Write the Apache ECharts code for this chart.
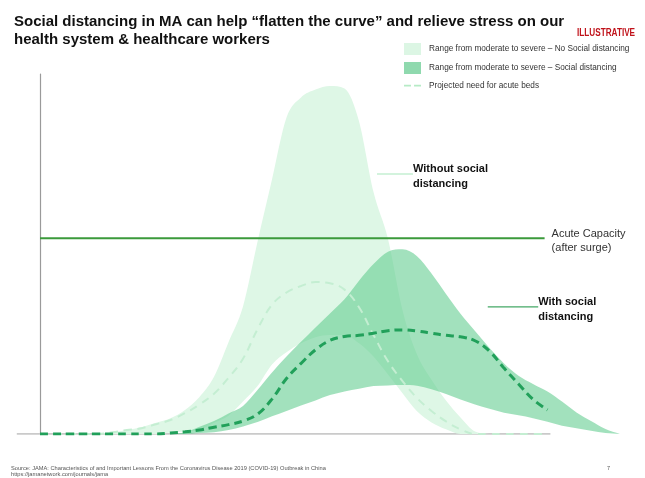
<!DOCTYPE html>
<html>
<head>
<meta charset="utf-8">
<script src="https://cdn.jsdelivr.net/npm/echarts@6/dist/echarts.min.js"></script>
<style>
html,body{margin:0;padding:0;background:#fff;}
#chart{width:645px;height:478px;}
</style>
</head>
<body>
<div id="chart"></div>
<script>
// ---- Data (illustrative units: x = days, y = beds index) ----
const days = [0,2.5,5,7.5,10,12.5,15,17.5,20,22.5,25,27.5,30,32.5,35,37.5,40,42.5,45,47.5,50,52.5,55,57.5,60,62.5,65,67.5,70,72.5,75,77.5,80,82.5,85,87.5,90,92.5,95,97.5,100];

// Range from moderate to severe – No Social distancing (light band)
const noSdHigh = [0,0,0,0,0,0.4,1.1,1.9,3.1,4.4,6.7,10.3,15.9,25.5,35.4,53.4,70.7,87.9,93.5,95.7,96.7,96.0,86.9,67.2,54.2,34.4,22.1,15.1,9.3,4.6,0.7,0,0,0,0,0,0,0,0,0,0];
const noSdLow  = [0,0,0,0,0,0,0,0,0,0.4,0.7,1.1,3.1,5.1,9.0,13.3,19.3,22.7,25.2,26.9,27.5,27.5,25.2,21.5,16.5,11.3,6.3,3.2,1.3,0,0,0,0,0,0,0,0,0,0,0,0];

// Range from moderate to severe – Social distancing (darker band)
const sdHigh = [0,0,0,0,0,0,0,0,0,0,0.5,2.0,3.6,5.7,7.8,12.2,17.1,21.5,25.6,29.6,33.5,37.4,42.6,47.2,50.6,51.3,49.4,44.6,38.9,33.4,28.6,23.9,19.6,16.2,13.9,11.8,9.0,6.0,3.6,1.4,0];
const sdLow  = [0,0,0,0,0,0,0,0,0,0,0,0.3,0.5,1.1,2.1,3.3,4.9,6.4,7.9,9.3,10.8,11.8,12.6,13.3,13.5,13.6,13.4,12.4,11.1,9.6,8.2,7.0,5.9,5.2,4.4,3.4,2.3,1.6,0.9,0.3,0];

// Projected need for acute beds
const noSdProjected = [0,0,0,0,0,0.5,1.1,1.6,2.7,3.9,5.8,8.2,11.2,15.6,20.9,29.1,35.9,39.3,41.1,42.2,41.9,40.1,35.2,27.5,20.2,14.7,10.0,6.4,3.5,1.3,0,0,0,0,0,0,null,null,null,null,null];
const sdProjected   = [0,0,0,0,0,0,0,0,0,0.3,0.6,1.1,1.9,2.6,3.6,5.5,9.7,15.4,19.6,23.4,26.0,27.1,27.4,28.0,28.7,28.9,28.6,28.0,27.4,27.0,25.9,23.0,18.3,13.9,9.6,6.7,null,null,null,null,null];

// Acute capacity (after surge)
const capacityLevel = 54.4;
const capacitySpan = [0, 87];

// Baseline extent
const baselineSpan = [-4, 88];

// Annotation anchors (data coords)
const withoutAnno = {x: [58.1, 64.3], y: 72.2};
const withAnno = {x: [77.2, 85.9], y: 35.3};

const names = {
  noSd: 'Range from moderate to severe \u2013 No Social distancing',
  sd: 'Range from moderate to severe \u2013 Social distancing',
  proj: 'Projected need for acute beds'
};

// ---- Build ----
const pairs = (arr) => days.map((d, i) => [d, arr[i]]);

const FONT = "'Liberation Sans', Arial, sans-serif";
const LIGHT = 'rgb(222,247,230)';
const DARK = 'rgba(100,205,145,0.6)';

// monotone cubic (Fritsch–Carlson) tangents, used only to smooth the drawn edge
function tangents(xs, ys) {
  const n = xs.length, d = [], m = new Array(n);
  for (let k = 0; k < n - 1; k++) d[k] = (ys[k + 1] - ys[k]) / (xs[k + 1] - xs[k]);
  m[0] = d[0]; m[n - 1] = d[n - 2];
  for (let k = 1; k < n - 1; k++) m[k] = d[k - 1] * d[k] <= 0 ? 0 : (d[k - 1] + d[k]) / 2;
  for (let k = 0; k < n - 1; k++) {
    if (d[k] === 0) { m[k] = 0; m[k + 1] = 0; continue; }
    const a = m[k] / d[k], b = m[k + 1] / d[k], s = a * a + b * b;
    if (s > 9) { const t = 3 / Math.sqrt(s); m[k] = t * a * d[k]; m[k + 1] = t * b * d[k]; }
  }
  return m;
}

function bandSeries(name, hi, lo, color, z) {
  const data = days.map((d, i) => [d, lo[i], hi[i]]);
  let s = 0, e = data.length - 1;
  while (s < data.length && !(hi[s] > 0)) s++;
  while (e > 0 && !(hi[e] > 0)) e--;
  s = Math.max(0, s - 1); e = Math.min(data.length - 1, e + 1);
  const xs = days.slice(s, e + 1), H = hi.slice(s, e + 1), L = lo.slice(s, e + 1);
  const mh = tangents(xs, H), ml = tangents(xs, L);
  return {
    name, type: 'custom', z, silent: true,
    coordinateSystem: 'cartesian2d',
    encode: {x: 0, y: [1, 2]},
    itemStyle: {color},
    data,
    renderItem: (params, api) => {
      if (params.dataIndex !== 0) return null;
      const P = (x, y) => { const c = api.coord([x, y]); return c[0].toFixed(2) + ',' + c[1].toFixed(2); };
      const n = xs.length;
      let path = 'M' + P(xs[0], H[0]);
      for (let k = 0; k < n - 1; k++) {
        const h = xs[k + 1] - xs[k];
        path += 'C' + P(xs[k] + h / 3, H[k] + mh[k] * h / 3) + ' ' +
                P(xs[k + 1] - h / 3, H[k + 1] - mh[k + 1] * h / 3) + ' ' + P(xs[k + 1], H[k + 1]);
      }
      path += 'L' + P(xs[n - 1], L[n - 1]);
      for (let k = n - 2; k >= 0; k--) {
        const h = xs[k + 1] - xs[k];
        path += 'C' + P(xs[k + 1] - h / 3, L[k + 1] - ml[k + 1] * h / 3) + ' ' +
                P(xs[k] + h / 3, L[k] + ml[k] * h / 3) + ' ' + P(xs[k], L[k]);
      }
      path += 'Z';
      return {type: 'path', shape: {pathData: path}, style: {fill: color}};
    }
  };
}

const chart = echarts.init(document.getElementById('chart'), null, {renderer: 'canvas'});

const option = {
  animation: false,
  backgroundColor: '#fff',
  textStyle: {fontFamily: FONT},
  title: [
    {
      text: 'Social distancing in MA can help \u201cflatten the curve\u201d and relieve stress on our\nhealth system & healthcare workers',
      left: 9, top: 8,
      textStyle: {fontFamily: FONT, fontSize: 15, fontWeight: 'bold', color: '#111', lineHeight: 18}
    },
    {
      text: 'Source: JAMA: Characteristics of and Important Lessons From the Coronavirus Disease 2019 (COVID-19) Outbreak in China\nhttps://jamanetwork.com/journals/jama',
      left: 6, top: 460,
      textStyle: {fontFamily: FONT, fontSize: 5.7, fontWeight: 'normal', color: '#555', lineHeight: 6.5}
    },
    {
      text: '7',
      left: 602, top: 460,
      textStyle: {fontFamily: FONT, fontSize: 5.5, fontWeight: 'normal', color: '#555'}
    }
  ],
  graphic: [
    {
      type: 'text', x: 577, y: 28, scaleX: 0.78, silent: true,
      style: {text: 'ILLUSTRATIVE', font: "bold 10.5px 'Liberation Sans', Arial, sans-serif", fill: '#c0131b'}
    }
  ],
  legend: {
    orient: 'vertical',
    left: 399, top: 38,
    itemWidth: 17, itemHeight: 12, itemGap: 7,
    selectedMode: false,
    textStyle: {fontFamily: FONT, fontSize: 8.25, color: '#333', padding: [0,0,0,3]},
    data: [
      {name: names.noSd, icon: 'rect', itemStyle: {color: '#dcf6e4', borderWidth: 0}},
      {name: names.sd, icon: 'rect', itemStyle: {color: '#8fd9ae', borderWidth: 0}},
      {name: names.proj, icon: 'path://M0,0L0,12M0,5h9v2.2h-9zM13,5h9v2.2h-9z', itemStyle: {color: '#b6ebc6', borderWidth: 0}}
    ]
  },
  grid: {left: 16.8, right: 25, top: 74, bottom: 44, containLabel: false},
  xAxis: {
    type: 'value', min: -4, max: 100,
    axisLine: {show: false}, axisTick: {show: false}, axisLabel: {show: false}, splitLine: {show: false}
  },
  yAxis: {
    type: 'value', min: 0, max: 100,
    axisLine: {show: true, onZero: true, lineStyle: {color: '#9a9a9a', width: 1.2}},
    axisTick: {show: false}, axisLabel: {show: false}, splitLine: {show: false}
  },
  series: [
    {
      name: 'baseline', type: 'line', data: baselineSpan.map(x => [x, 0]),
      symbol: 'none', silent: true, z: 1,
      lineStyle: {color: '#b8b8b8', width: 1.5}
    },
    bandSeries(names.noSd, noSdHigh, noSdLow, LIGHT, 2),
    bandSeries(names.sd, sdHigh, sdLow, DARK, 3),
    {
      name: 'capacity', type: 'line', data: capacitySpan.map(x => [x, capacityLevel]),
      symbol: 'none', silent: true, z: 4,
      lineStyle: {color: '#3b9a3b', width: 2},
      endLabel: {show: true, formatter: 'Acute Capacity\n(after surge)', distance: 7, offset: [0, 3],
        fontFamily: FONT, fontSize: 11, lineHeight: 14, color: '#333'}
    },
    {
      name: names.proj, type: 'line', data: pairs(noSdProjected),
      smooth: 0.4, symbol: 'none', silent: true, z: 5,
      itemStyle: {color: '#c4eed2'},
      lineStyle: {color: '#c4eed2', width: 2, type: [8, 6]}
    },
    {
      name: 'Projected need (social distancing)', type: 'line', data: pairs(sdProjected),
      smooth: 0.4, symbol: 'none', silent: true, z: 6,
      lineStyle: {color: '#21a05a', width: 3, type: [8, 5]}
    },
    {
      name: 'withoutAnno', type: 'line', data: withoutAnno.x.map(x => [x, withoutAnno.y]),
      symbol: 'none', silent: true, z: 7,
      lineStyle: {color: '#c4efd2', width: 1.5},
      endLabel: {show: true, formatter: 'Without social\ndistancing', distance: 0, offset: [0, 2],
        fontFamily: FONT, fontSize: 11, fontWeight: 'bold', lineHeight: 15, color: '#111'}
    },
    {
      name: 'withAnno', type: 'line', data: withAnno.x.map(x => [x, withAnno.y]),
      symbol: 'none', silent: true, z: 7,
      lineStyle: {color: '#45a866', width: 1.2},
      endLabel: {show: true, formatter: 'With social\ndistancing', distance: 0, offset: [0, 2.5],
        fontFamily: FONT, fontSize: 11, fontWeight: 'bold', lineHeight: 15, color: '#111'}
    }
  ]
};
chart.setOption(option);
</script>
</body>
</html>
